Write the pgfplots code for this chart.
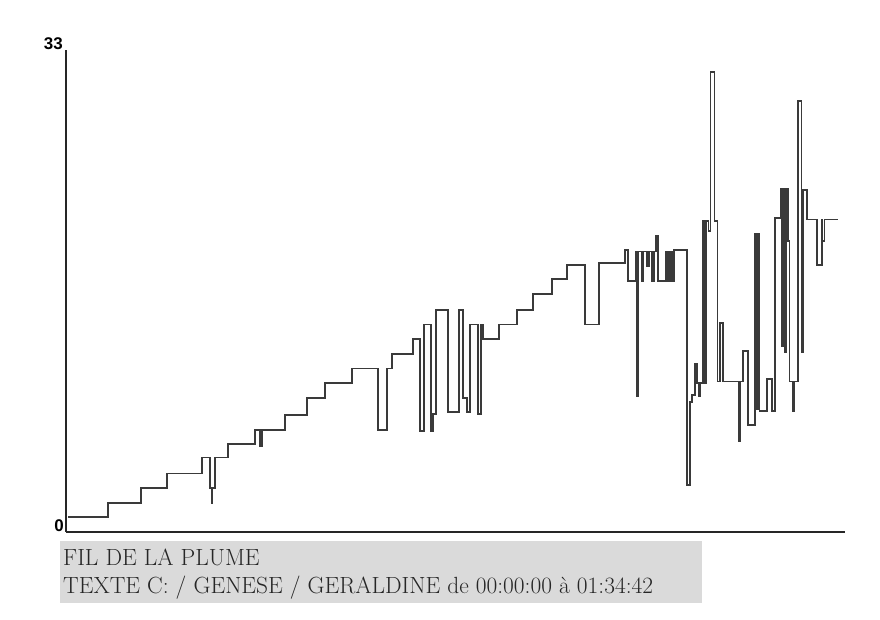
\documentclass[border=0pt]{standalone}
\usepackage{pgfplots}
\pgfplotsset{compat=1.18}
\usepackage{fontspec}
\setsansfont{Liberation Sans}
\definecolor{ink}{RGB}{58,58,58}
\definecolor{capbg}{RGB}{218,218,218}
\begin{document}
\begin{tikzpicture}[x=1bp,y=1bp]
\path[use as bounding box] (0,0) rectangle (880,620);
\fill[capbg] (60,17) rectangle (702,79);
\node[anchor=base west, inner sep=0, font=\fontsize{23.5}{27}\selectfont, text=black!85] at (63,54) {FIL DE LA PLUME};
\node[anchor=base west, inner sep=0, font=\fontsize{23.5}{27}\selectfont, text=black!85] at (63,26) {TEXTE C: / GENESE / GERALDINE de 00:00:00 à 01:34:42};
\begin{axis}[
  at={(66bp,88bp)}, anchor=south west,
  scale only axis, width=779bp, height=482bp,
  xmin=-1, xmax=778, ymin=0, ymax=33,
  axis lines=left, axis line style={-, line width=1.3bp, black!85},
  xtick=\empty, ytick=\empty,
  clip=false,
]
\addplot[const plot, color=ink, line width=1.8bp] coordinates {
(1,1.0) (41,2.0) (74,3.0) (100,4.0) (135,5.1) (143,3.0) (144.5,2.0) (145.5,3.0)
(148,5.1) (161,6.0) (188,7.0) (193,5.9) (195,7.0) (218,8.0) (240,9.2) (258,10.2)
(285,11.2) (311.3,7.0) (320,11.2) (324.7,12.2) (345.7,13.2) (353,6.9) (357,14.2)
(364,6.9) (366,8.1) (369,15.2) (381,8.2) (392,15.2) (396,9.2) (400,8.2) (403,14.2)
(411,8.1) (414,14.2) (416,13.2) (432,14.2) (449.7,15.2) (466.3,16.3) (484.7,17.3)
(500,18.3) (518,14.2) (532,18.4) (558,19.3) (561.3,17.2) (569,19.2) (570,9.3)
(571,19.2) (574.7,17.2) (576.3,19.2) (580,18.2) (582,19.2) (584.7,17.2) (587,19.2)
(589,20.3) (591.3,17.2) (599,19.2) (601,17.2) (603,19.2) (605,17.2) (607,19.3)
(619.7,3.2) (623,8.9) (625,9.4) (628,11.5) (630,10.2) (632,9.3) (633,10.2)
(636.3,21.3) (638,10.2) (639.5,21.3) (641.5,20.6) (643.5,31.5) (647.5,21.3)
(650.5,10.3) (653,14.3) (656,10.3) (671.5,6.2) (673,10.3) (676.3,12.4) (681.3,7.3)
(688,20.4) (690,8.4) (691,20.4) (692.5,8.3) (699.7,10.5) (704.7,8.3) (708,21.5)
(713.7,23.5) (715,12.7) (716.5,23.5) (718,12.3) (719.5,23.5) (721.3,19.9)
(722.5,10.3) (726,8.3) (727,10.3) (731.3,29.5) (734.5,12.3) (736,23.4) (739.7,21.4)
(750,18.3) (754.7,21.4) (755.5,19.9) (757.5,21.4) (771.3,21.4)
};
\node[anchor=south east, inner sep=0, xshift=-3bp, font=\sffamily\bfseries\fontsize{17}{17}\selectfont] at (rel axis cs:0,1) {33};
\node[anchor=south east, inner sep=0, xshift=-2bp, font=\sffamily\bfseries\fontsize{17}{17}\selectfont] at (rel axis cs:0,0) {0};
\end{axis}
\end{tikzpicture}
\end{document}
